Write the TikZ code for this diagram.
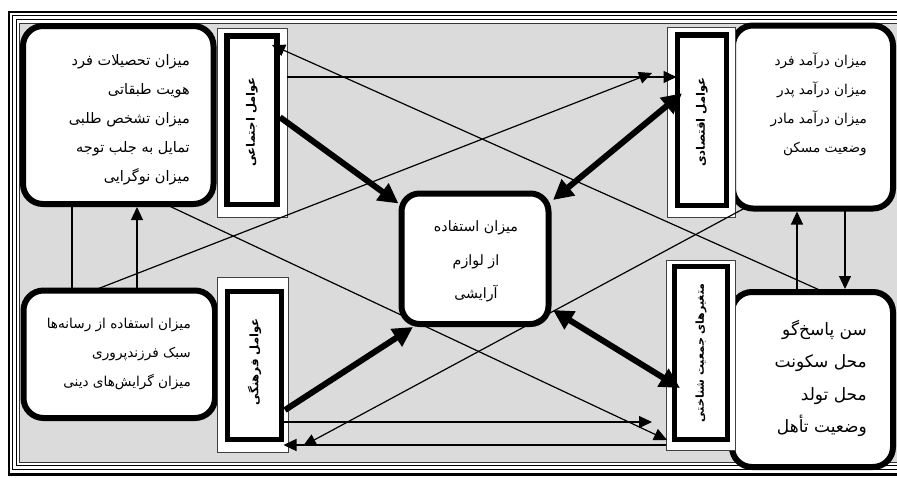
\documentclass[tikz,border=0pt]{standalone}
\usepackage{fontspec}
\newfontfamily\arfont[Script=Arabic]{DejaVu Sans}
\TeXXeTstate=1
\usetikzlibrary{arrows.meta,calc}
\tikzset{
  rbox/.style={draw, line width=6pt, rounded corners=20pt, fill=white, inner sep=0pt, outer sep=0pt},
  cbox/.style={draw, line width=6pt, rounded corners=18pt, fill=white, inner sep=0pt, outer sep=0pt},
  lblout/.style={draw=black!75, line width=1pt, fill=white, inner sep=0pt, outer sep=0pt},
  lblin/.style={draw, line width=5.5pt, fill=white, inner sep=0pt, outer sep=0pt},
  lbltxt/.style={rotate=90, font=\arfont\bfseries\fontsize{11.6}{13}\selectfont, inner sep=0pt},
  txt/.style={font=\arfont\fontsize{14.5}{29}\selectfont, align=right, inner sep=0pt},
  smtxt/.style={font=\arfont\fontsize{13.6}{29}\selectfont, align=right, inner sep=0pt},
  bigtxt/.style={font=\arfont\fontsize{17}{32.5}\selectfont, align=right, inner sep=0pt},
  ctxt/.style={font=\arfont\fontsize{14.2}{33.5}\selectfont, align=center, inner sep=0pt},
  thin/.style={line width=1.2pt, -{Triangle[length=13pt,width=12pt]}},
  plain/.style={line width=1.2pt},
  thick/.style={line width=6pt, -{Triangle[length=20pt,width=20pt]}},
  thickboth/.style={line width=6pt, {Triangle[length=20pt,width=20pt]}-{Triangle[length=20pt,width=20pt]}},
}
\begin{document}
\begin{tikzpicture}[x=1pt,y=-1pt]
\useasboundingbox (0,0) rectangle (897,477);
\clip (0,0) rectangle (897,477);
\fill[white] (0,0) rectangle (897,477);
% frame
\draw[line width=2.6pt] (9,12) rectangle (910,474.5);
\draw[line width=1.1pt] (12.8,15.6) rectangle (910,469.6);
\draw[line width=1.2pt] (16.2,19.6) rectangle (910,465.8);
\draw[draw=black!80, line width=0.9pt, fill=black!14] (19.8,23.3) rectangle (910,462);

% main boxes
\node[rbox, minimum width=190.5pt, minimum height=178pt] (TL) at (118.25,115) {};
\node[rbox, minimum width=160pt, minimum height=183pt] (TR) at (813,117) {};
\node[cbox, minimum width=147pt, minimum height=130.5pt] (C) at (475,258.75) {};
\node[rbox, minimum width=191.5pt, minimum height=127.5pt] (BL) at (119.25,354.25) {};
\node[rbox, minimum width=161pt, minimum height=175pt] (BR) at (812.5,379.5) {};

% label boxes
\node[lblout, minimum width=70pt, minimum height=189pt] (SOCo) at (252,122.5) {};
\node[lblin, minimum width=50pt, minimum height=168.5pt] (SOC) at (252,120.25) {};
\node[lblout, minimum width=68pt, minimum height=190pt] (ECOo) at (701,122) {};
\node[lblin, minimum width=49pt, minimum height=170.5pt] (ECO) at (702,120.25) {};
\node[lblout, minimum width=71pt, minimum height=175pt] (CULo) at (252.5,364.5) {};
\node[lblin, minimum width=54pt, minimum height=148pt] (CUL) at (254.5,365.5) {};
\node[lblout, minimum width=69pt, minimum height=190pt] (DEMo) at (700.5,355) {};
\node[lblin, minimum width=53pt, minimum height=173pt] (DEM) at (701,353) {};

\node[lbltxt] (SOCt) at (252,122) {\beginR عوامل اجتماعی\endR};
\node[lbltxt] (ECOt) at (702,122) {\beginR عوامل اقتصادی\endR};
\node[lbltxt] (CULt) at (254.5,362) {\beginR عوامل فرهنگی\endR};
\node[lbltxt, font=\arfont\bfseries\fontsize{11}{13}\selectfont] (DEMt) at (701,353) {\beginR متغیرهای جمعیت شناختی\endR};

% texts
\node[txt, anchor=east] (TLt) at (190,120) {\beginR میزان تحصیلات فرد\endR\\\beginR هویت طبقاتی\endR\\\beginR میزان تشخص طلبی\endR\\\beginR تمایل به جلب توجه\endR\\\beginR میزان نوگرایی\endR};
\node[smtxt, anchor=east] (TRt) at (867,104.5) {\beginR میزان درآمد فرد\endR\\\beginR میزان درآمد پدر\endR\\\beginR میزان درآمد مادر\endR\\\beginR وضعیت مسکن\endR};
\node[ctxt] (Ct) at (476,261.5) {\beginR میزان استفاده\endR\\\beginR از لوازم\endR\\\beginR آرایشی\endR};
\node[smtxt, anchor=east] (BLt) at (191,354) {\beginR میزان استفاده از رسانه‌ها\endR\\\beginR سبک فرزندپروری\endR\\\beginR میزان گرایش‌های دینی\endR};
\node[bigtxt, anchor=east] (BRt) at (867,378.5) {\beginR سن پاسخ‌گو\endR\\\beginR محل سکونت\endR\\\beginR محل تولد\endR\\\beginR وضعیت تأهل\endR};

% helper coordinates
\coordinate (h1) at (0,77);
\coordinate (h2) at (0,422);
\coordinate (h3) at (0,445);
\coordinate (v1) at (72,0);
\coordinate (v2) at (137,0);
\coordinate (v3) at (797,0);
\coordinate (v4) at (845,0);
\coordinate (aEnd) at (652,73);
\coordinate (cEnd) at (303,446);

% vertical links
\draw[plain] (TL.south -| v1) -- (BL.north -| v1);
\draw[thin, shorten >=3pt] (BL.north -| v2) -- (TL.south -| v2);
\draw[thin, shorten >=3pt] (BR.north -| v3) -- (TR.south -| v3);
\draw[thin, shorten >=3pt] (TR.south -| v4) -- (BR.north -| v4);

% horizontal links
\draw[thin] (SOCo.east |- h1) -- ($(ECO.west |- h1)+(-1,0)$);
\draw[thin, shorten >=14pt] (CUL.east |- h2) -- (DEMo.west |- h2);
\draw[thin] (DEMo.west |- h3) -- ($(CUL.east |- h3)+(2,0)$);

% diagonal thin links
\draw[thin] ($(BL.north west)+(70,0)$) -- (aEnd);
\draw[thin] ($(BR.north west)+(92,0)$) -- ($(SOC.north east)+(-5,9)$);
\draw[thin] ($(TL.south west)+(142,0)$) -- ($(DEM.south west)+(-7.5,0.5)$);
\draw[thin] ($(TR.south west)+(11,0)$) -- (cEnd);

% thick links
\draw[thick] ($(SOC.east)+(3,-3)$) -- ($(C.north west)+(-3,10)$);
\draw[thickboth] ($(ECO.west)+(4.5,-27)$) -- ($(C.north east)+(4.5,6.5)$);
\draw[thick] ($(CUL.east)+(3.5,44.5)$) -- ($(C.south west)+(11.5,3)$);
\draw[thickboth] ($(DEM.west)+(5.5,35)$) -- ($(C.east)+(4.5,51.25)$);
\end{tikzpicture}
\end{document}
